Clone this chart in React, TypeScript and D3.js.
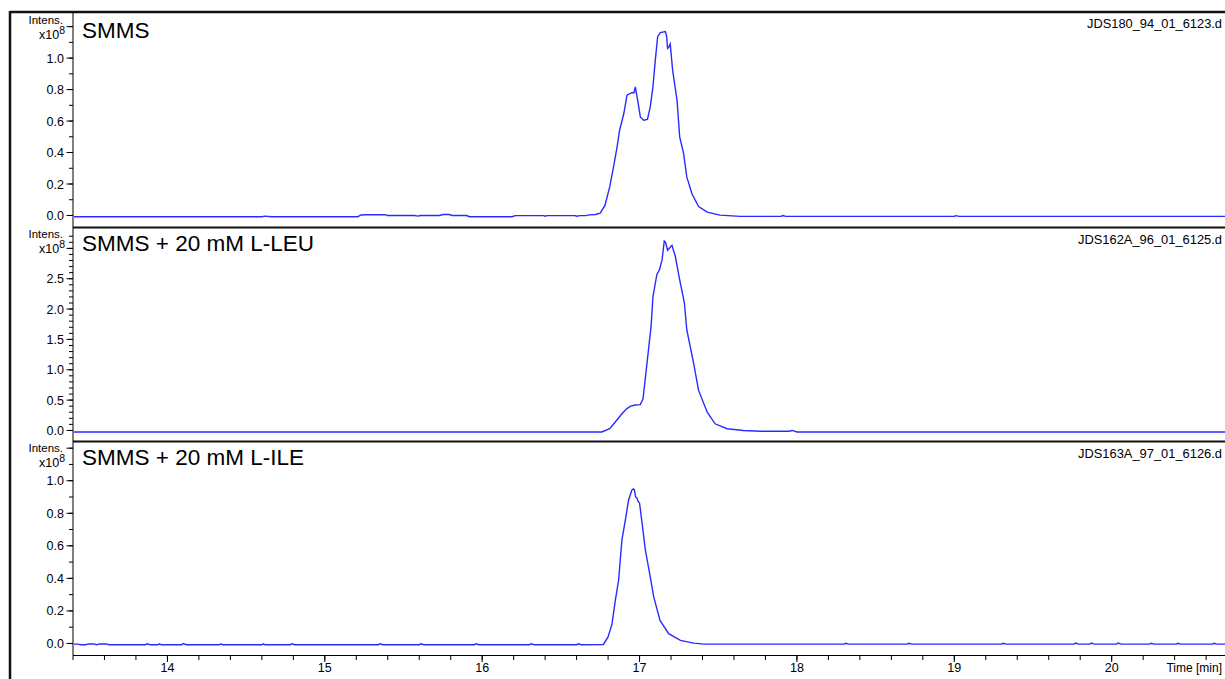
import React from "react";
import * as d3 from "d3";

// ---------- data (time [min], intensity x10^8) ----------
const smmsTime = [13.40, 14.60, 14.62, 14.66, 15.21, 15.23, 15.26, 15.38, 15.40, 15.57, 15.59, 15.61, 15.73, 15.75, 15.79, 15.81, 15.90, 15.92, 16.19, 16.21, 16.39, 16.40, 16.41, 16.59, 16.60, 16.62, 16.66, 16.68, 16.72,
  16.75, 16.78, 16.81, 16.835, 16.857, 16.873, 16.90, 16.92, 16.95, 16.965, 16.973, 16.988, 17.005, 17.026, 17.05, 17.068, 17.085, 17.10, 17.115, 17.132, 17.164, 17.172, 17.178, 17.186, 17.195, 17.21, 17.238, 17.255, 17.28, 17.30, 17.333, 17.375, 17.43, 17.51, 17.64,
  17.90, 17.91, 17.93, 19.00, 19.01, 19.03, 20.72];
const smmsIntensity = [-0.008, -0.008, -0.004, -0.008, -0.008, 0.003, 0.005, 0.005, 0.0, 0.0, -0.004, 0.0, 0.0, 0.006, 0.006, 0.0, 0.0, -0.008, -0.008, -0.001, -0.001, -0.005, -0.001, -0.001, -0.005, -0.001, -0.001, 0.004, 0.006,
  0.015, 0.064, 0.18, 0.31, 0.435, 0.54, 0.648, 0.764, 0.78, 0.78, 0.817, 0.733, 0.626, 0.605, 0.61, 0.69, 0.817, 0.987, 1.136, 1.162, 1.168, 1.14, 1.062, 1.07, 1.09, 0.924, 0.733, 0.5, 0.393, 0.245, 0.138, 0.057, 0.021, 0.002, -0.006,
  -0.006, 0.0, -0.006, -0.006, -0.001, -0.006, -0.006];

const leuTime = [13.40, 16.76, 16.81, 16.846, 16.888, 16.92, 16.94, 16.97, 17.005, 17.022, 17.047, 17.073, 17.085, 17.11, 17.127, 17.143, 17.157, 17.165, 17.178, 17.195, 17.206, 17.227, 17.255, 17.285, 17.30, 17.344, 17.375, 17.43, 17.48, 17.556, 17.66, 17.77, 17.95, 17.97, 18.00, 20.72];
const leuIntensity = [-0.025, -0.025, 0.03, 0.14, 0.276, 0.36, 0.397, 0.42, 0.425, 0.52, 1.1, 1.71, 2.2, 2.57, 2.65, 2.81, 3.12, 3.1, 2.97, 3.02, 3.05, 2.87, 2.48, 2.1, 1.66, 1.1, 0.66, 0.3, 0.11, 0.028, 0.0, -0.012, -0.012, 0.0, -0.025, -0.025];

const ileTime = [13.40, 13.43, 13.45, 13.48, 13.50, 13.53, 13.55, 13.57, 13.61, 13.63, 13.86, 13.87, 13.89, 13.94, 13.95, 13.96, 14.09, 14.10, 14.12, 14.33, 14.34, 14.35, 14.60, 14.61, 14.62, 14.78, 14.79, 14.81,
  15.34, 15.35, 15.37, 15.60, 15.61, 15.63, 15.95, 15.96, 15.98, 16.30, 16.31, 16.33, 16.60, 16.61, 16.63, 16.77,
  16.80, 16.825, 16.846, 16.867, 16.888, 16.91, 16.93, 16.95, 16.96, 16.967, 16.975, 16.984, 16.99, 17.00, 17.016, 17.037, 17.064, 17.09, 17.13, 17.185, 17.26, 17.344, 17.41,
  18.30, 18.31, 18.33, 18.70, 18.71, 18.73, 19.30, 19.31, 19.33, 19.76, 19.77, 19.79, 19.86, 19.87, 19.89, 20.03, 20.04, 20.06, 20.24, 20.25, 20.27, 20.41, 20.42, 20.44, 20.64, 20.65, 20.67, 20.72];
const ileIntensity = [-0.004, -0.004, -0.008, -0.008, -0.003, -0.003, -0.008, -0.003, -0.003, -0.008, -0.008, -0.002, -0.008, -0.008, -0.002, -0.008, -0.008, -0.001, -0.008, -0.008, -0.002, -0.008, -0.008, -0.002, -0.008, -0.008, -0.002, -0.008,
  -0.008, -0.002, -0.008, -0.008, -0.002, -0.008, -0.008, -0.002, -0.008, -0.008, -0.002, -0.008, -0.008, -0.002, -0.008, -0.006,
  0.04, 0.12, 0.265, 0.39, 0.636, 0.76, 0.88, 0.94, 0.95, 0.945, 0.9, 0.893, 0.875, 0.862, 0.74, 0.574, 0.43, 0.286, 0.142, 0.06, 0.019, 0.002, -0.004,
  -0.004, 0.001, -0.004, -0.004, 0.001, -0.004, -0.004, 0.001, -0.004, -0.004, 0.002, -0.004, -0.004, 0.002, -0.004, -0.004, 0.002, -0.004, -0.004, 0.001, -0.004, -0.004, 0.001, -0.004, -0.004, 0.001, -0.004, -0.004];

const panelTitles = ["SMMS", "SMMS + 20 mM L-LEU", "SMMS + 20 mM L-ILE"];
const fileNames = ["JDS180_94_01_6123.d", "JDS162A_96_01_6125.d", "JDS163A_97_01_6126.d"];
const yDomains: [number, number][] = [[-0.0764, 1.293], [-0.182, 3.344], [-0.074, 1.241]];
const yMajorStep = [0.2, 0.5, 0.2];
const yMinorMax = [1.2, 3.2, 1.2];
const xTickLabels = [14, 15, 16, 17, 18, 19, 20];
const timeDomain: [number, number] = [13.40, 20.72];

const series = [
  { t: smmsTime, v: smmsIntensity },
  { t: leuTime, v: leuIntensity },
  { t: ileTime, v: ileIntensity },
];

// ---------- layout ----------
const W = 1225, H = 679;
const plotLeft = 73, plotRight = 1225;
const panelBounds = [[12, 227.5], [227.5, 441.5], [441.5, 655.5]];
const fileLabelWidths = [135, 144, 144];
const FONT = "'Liberation Sans', Arial, Helvetica, sans-serif";
const LINE = "#2a2aff";

export default function App() {
  const x = d3.scaleLinear().domain(timeDomain).range([plotLeft, plotRight]);
  const xMinor = d3.range(13.4, 20.72, 0.2).map((d) => Math.round(d * 10) / 10);

  return (
    <svg width={W} height={H} style={{ position: "absolute", left: 0, top: 0, background: "#fff" }} fontFamily={FONT}>
      <defs>
        {panelBounds.map(([t, b], i) => (
          <clipPath id={`clip${i}`} key={i}>
            <rect x={plotLeft + 1} y={t + 1} width={plotRight - plotLeft} height={b - t - 2} />
          </clipPath>
        ))}
      </defs>
      <rect x={0} y={0} width={W} height={H} fill="#fff" />
      {panelBounds.map(([top, bottom], i) => {
        const y = d3.scaleLinear().domain(yDomains[i]).range([bottom, top]);
        const minor = d3.range(0, yMinorMax[i] + 1e-6, 0.1).map((d) => Math.round(d * 10) / 10);
        const step = yMajorStep[i];
        const major = minor.filter((d) => Math.abs(d / step - Math.round(d / step)) < 1e-6);
        const labelled = major.filter((d) => d <= (i === 1 ? 2.5 : 1.0) + 1e-6);
        const line = d3.line<number>()
          .x((_, k) => x(series[i].t[k]))
          .y((d) => y(d));
        const textTop = i === 0 ? top + 2 : top;
        return (
          <g key={i}>
            {minor.map((d) => (
              <line key={"m" + d} x1={plotLeft - 4} x2={plotLeft} y1={y(d)} y2={y(d)} stroke="#000" strokeWidth={1} />
            ))}
            {major.map((d) => (
              <line key={"M" + d} x1={plotLeft - 6.5} x2={plotLeft} y1={y(d)} y2={y(d)} stroke="#000" strokeWidth={1} />
            ))}
            {labelled.map((d) => (
              <text key={"L" + d} x={64} y={y(d)} dy="0.36em" textAnchor="end" fontSize={12.5}>
                {d.toFixed(1)}
              </text>
            ))}
            <text x={63} y={textTop + 10} textAnchor="end" fontSize={11.5}>Intens.</text>
            <text x={65} y={textTop + 25} textAnchor="end" fontSize={12.5}>
              x10<tspan dy={-5} fontSize={10.5}>8</tspan>
            </text>
            <text x={82} y={textTop + 23.5} fontSize={22.5}>{panelTitles[i]}</text>
            <text x={1222 - fileLabelWidths[i]} y={top + 16} fontSize={12.5}
              textLength={fileLabelWidths[i]} lengthAdjust="spacingAndGlyphs">{fileNames[i]}</text>
            <path d={line(series[i].v) || ""} fill="none" stroke={LINE} strokeWidth={1.4} clipPath={`url(#clip${i})`} />
          </g>
        );
      })}
      {/* frame */}
      <line x1={10} x2={W} y1={12} y2={12} stroke="#111" strokeWidth={2.5} />
      <line x1={10} x2={10} y1={11} y2={H} stroke="#111" strokeWidth={2.5} />
      <line x1={plotLeft} x2={plotLeft} y1={12} y2={655.5} stroke="#000" strokeWidth={1} />
      <line x1={plotLeft} x2={W} y1={227.5} y2={227.5} stroke="#111" strokeWidth={2} />
      <line x1={plotLeft} x2={W} y1={441.5} y2={441.5} stroke="#111" strokeWidth={2} />
      <line x1={plotLeft} x2={W} y1={655.5} y2={655.5} stroke="#000" strokeWidth={1} />
      {/* x axis */}
      {xMinor.map((d) => (
        <line key={"xm" + d} x1={x(d)} x2={x(d)} y1={655.5} y2={660} stroke="#000" strokeWidth={1} />
      ))}
      {xTickLabels.map((d) => (
        <g key={"xt" + d}>
          <line x1={x(d)} x2={x(d)} y1={655.5} y2={662} stroke="#000" strokeWidth={1} />
          <text x={x(d)} y={672} textAnchor="middle" fontSize={12.5}>{d}</text>
        </g>
      ))}
      <text x={1222} y={672} textAnchor="end" fontSize={12}>Time [min]</text>
    </svg>
  );
}
